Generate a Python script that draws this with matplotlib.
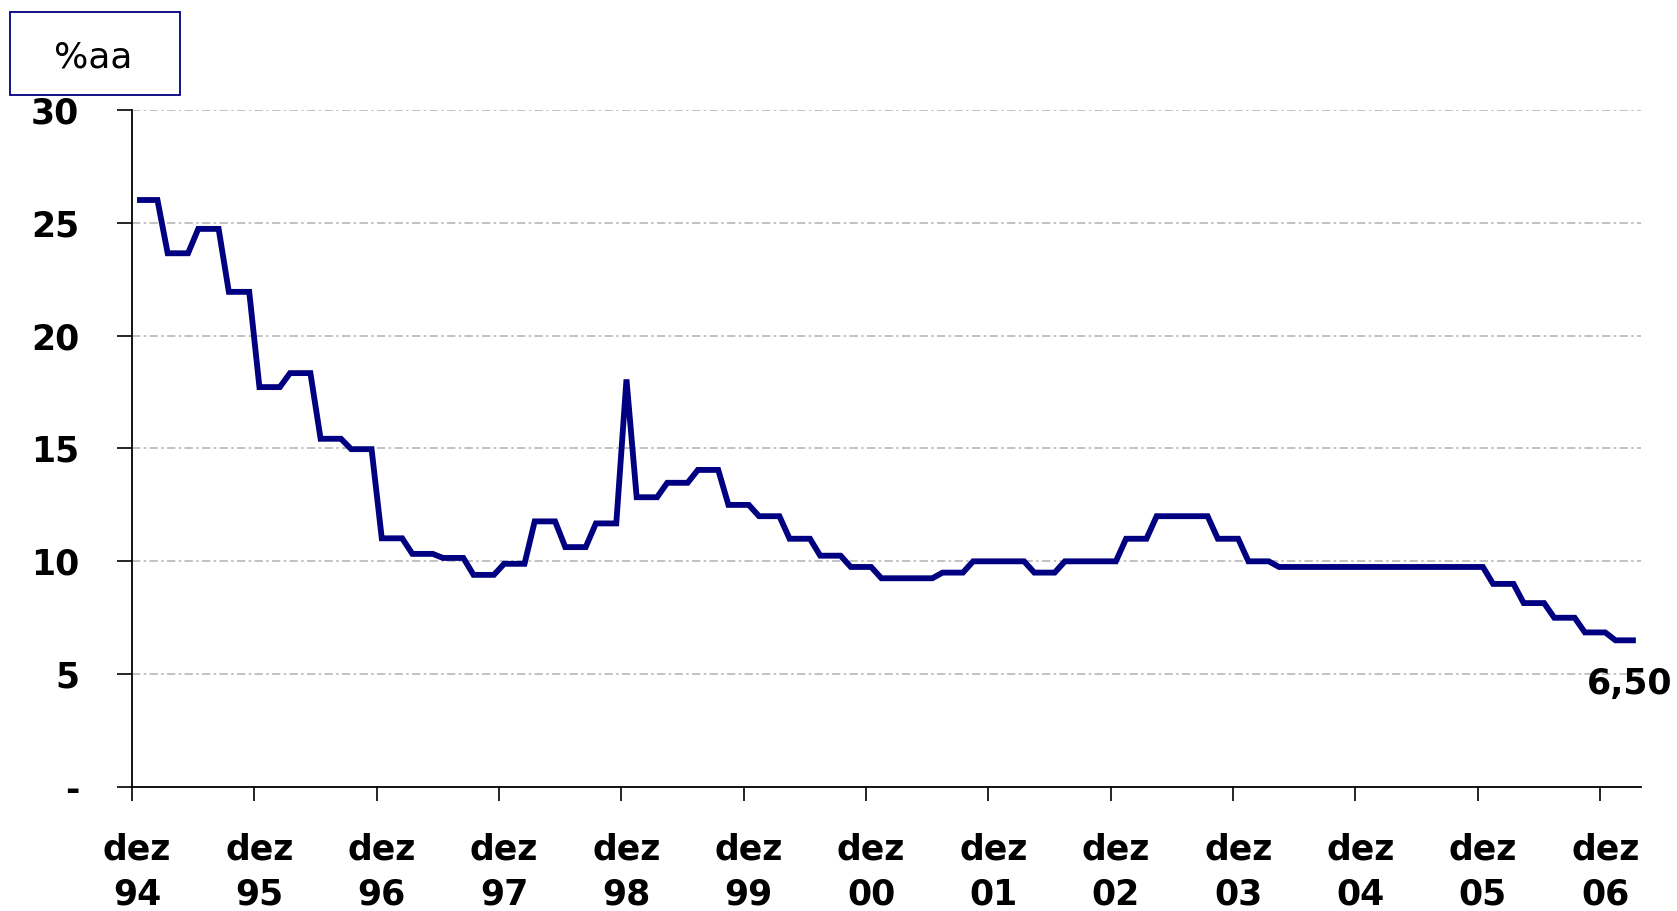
import matplotlib
matplotlib.use('Agg')
import matplotlib.pyplot as plt
import numpy as np

plt.rcParams['font.family'] = ['DejaVu Sans']

# TJLP monthly, dez/94 .. mar/07 (% a.a.)
tjlp = [26.01,
        26.01, 26.01, 23.65, 23.65, 23.65, 24.73, 24.73, 24.73, 21.94, 21.94, 21.94, 17.72,  # 95
        17.72, 17.72, 18.34, 18.34, 18.34, 15.43, 15.43, 15.43, 14.97, 14.97, 14.97, 11.02,  # 96
        11.02, 11.02, 10.33, 10.33, 10.33, 10.15, 10.15, 10.15, 9.40, 9.40, 9.40, 9.89,      # 97
        9.89, 9.89, 11.77, 11.77, 11.77, 10.63, 10.63, 10.63, 11.68, 11.68, 11.68, 18.06,    # 98
        12.84, 12.84, 12.84, 13.48, 13.48, 13.48, 14.05, 14.05, 14.05, 12.50, 12.50, 12.50,  # 99
        12.00, 12.00, 12.00, 11.00, 11.00, 11.00, 10.25, 10.25, 10.25, 9.75, 9.75, 9.75,     # 00
        9.25, 9.25, 9.25, 9.25, 9.25, 9.25, 9.50, 9.50, 9.50, 10.00, 10.00, 10.00,          # 01
        10.00, 10.00, 10.00, 9.50, 9.50, 9.50, 10.00, 10.00, 10.00, 10.00, 10.00, 10.00,    # 02
        11.00, 11.00, 11.00, 12.00, 12.00, 12.00, 12.00, 12.00, 12.00, 11.00, 11.00, 11.00, # 03
        10.00, 10.00, 10.00, 9.75, 9.75, 9.75, 9.75, 9.75, 9.75, 9.75, 9.75, 9.75,          # 04
        9.75, 9.75, 9.75, 9.75, 9.75, 9.75, 9.75, 9.75, 9.75, 9.75, 9.75, 9.75,            # 05
        9.00, 9.00, 9.00, 8.15, 8.15, 8.15, 7.50, 7.50, 7.50, 6.85, 6.85, 6.85,            # 06
        6.50, 6.50, 6.50]                                                                   # 07

years = ['94', '95', '96', '97', '98', '99', '00', '01', '02', '03', '04', '05', '06']
xlabels = ['dez\n' + y for y in years]
yticks = [0, 5, 10, 15, 20, 25, 30]
ylabels = ['-', '5', '10', '15', '20', '25', '30']
last_label = '6,50'

navy = '#000080'

fig = plt.figure(figsize=(16.77, 9.11), dpi=100)
ax = fig.add_axes([0.0787, 0.1361, 0.9785 - 0.0787, 0.8793 - 0.1361])

x = np.arange(len(tjlp))
ax.plot(x, tjlp, color=navy, lw=4.2, solid_joinstyle='miter', solid_capstyle='butt', zorder=3)

ax.set_xlim(-0.5, len(tjlp) - 0.5)
ax.set_ylim(0, 30)

# grid
for v in yticks[1:]:
    ax.axhline(v, color='#b8b8b8', lw=1.2, dashes=(5, 2, 1.5, 2), zorder=1)

ax.set_yticks(yticks)
ax.set_yticklabels(ylabels, fontsize=25, fontweight='bold')
ax.tick_params(axis='y', length=11, width=1.2, pad=27, direction='out')

# labels at the december points, tick marks between categories
lab_pos = np.arange(0, 12 * len(years), 12)
ax.set_xticks(lab_pos)
ax.set_xticklabels(xlabels, fontsize=25, fontweight='bold', linespacing=1.38)
ax.tick_params(axis='x', which='major', length=0, pad=33)
ax.set_xticks(lab_pos - 0.5, minor=True)
ax.tick_params(axis='x', which='minor', length=10, width=1.2, direction='out')

for s in ['top', 'right']:
    ax.spines[s].set_visible(False)
for s in ['left', 'bottom']:
    ax.spines[s].set_linewidth(1.3)

ax.annotate(last_label, xy=(x[-1], tjlp[-1]), xytext=(-6, -44), textcoords='offset pixels',
            ha='center', va='center', fontsize=25, fontweight='bold', annotation_clip=False)

# unit box
fig.patches.append(plt.Rectangle((10 / 1677, 1 - 95 / 911), 170 / 1677, 83 / 911,
                                 transform=fig.transFigure, fill=False, ec=navy, lw=1.3))
fig.text(93 / 1677, 1 - 57 / 911, '%aa', fontsize=26, ha='center', va='center')

fig.savefig('out.png', dpi=100)
